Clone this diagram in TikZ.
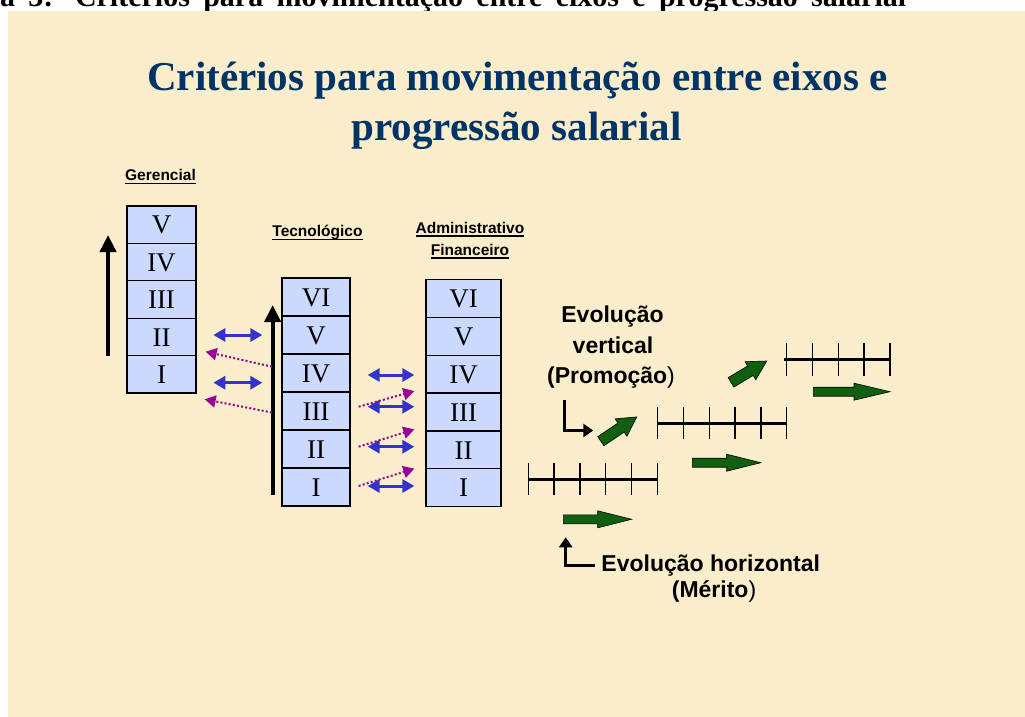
\documentclass[tikz,border=0pt]{standalone}
\usepackage{fontspec}
\setmainfont{Liberation Serif}
\newfontfamily\arialf{Liberation Sans}
\usetikzlibrary{arrows.meta,calc}
\definecolor{bgparch}{RGB}{250,237,203}
\definecolor{boxblue}{RGB}{204,217,255}
\definecolor{titleblue}{RGB}{0,51,102}
\definecolor{arrblue}{RGB}{51,51,204}
\definecolor{arrpurple}{RGB}{153,0,153}
\definecolor{arrgreen}{RGB}{16,96,16}
\tikzset{
  lvl/.style={draw=black, line width=1.3pt, fill=boxblue, inner sep=0pt,
    font=\fontsize{27}{27}\selectfont, text height=18.5pt, text depth=0pt},
  gcol/.style={lvl, minimum width=69pt, minimum height=37.4pt},
  tcol/.style={lvl, minimum width=68pt, minimum height=38pt},
  acol/.style={lvl, minimum width=75pt, minimum height=37.8pt},
  collab/.style={inner sep=0pt, anchor=base, font=\arialf\bfseries\fontsize{15.5}{16}\selectfont},
  ulin/.style={line width=1.4pt},
  evotext/.style={inner sep=0pt, anchor=base, font=\arialf\fontsize{23}{27}\selectfont},
  titletext/.style={inner sep=0pt, anchor=base, text=titleblue, font=\bfseries\fontsize{41}{41}\selectfont},
  uparrow/.style={line width=4pt, -{Triangle[width=16pt,length=17pt]}},
  bluedbl/.style={draw=arrblue, line width=3pt, {Triangle[width=13pt,length=12pt]}-{Triangle[width=13pt,length=12pt]}},
  purpdot/.style={draw=arrpurple, line width=2pt, dash pattern=on 2pt off 2.2pt, -{Triangle[width=12pt,length=11pt]}},
  elbow/.style={line width=3pt, -{Triangle[width=13pt,length=10pt]}},
  scaleline/.style={line width=2.5pt},
  tickline/.style={line width=1.4pt},
  greenstyle/.style={fill=arrgreen, draw=black, line width=0.6pt},
  pics/garrow/.style args={#1/#2/#3/#4}{code={
    \filldraw[greenstyle] (0,-#2) -- (#1-#4,-#2) -- (#1-#4,-#3) -- (#1,0) -- (#1-#4,#3) -- (#1-#4,#2) -- (0,#2) -- cycle;}}
}
\begin{document}
\begin{tikzpicture}[x=1pt,y=-1pt]
\useasboundingbox (0,0) rectangle (1025,717);
\fill[white] (0,0) rectangle (1025,717);
% clipped caption at the top
\begin{scope}
\clip (0,0) rectangle (1025,11);
\node[inner sep=0pt, anchor=base west, font=\bfseries\fontsize{30}{30}\selectfont] (cap) at (0,6.8)
  {\makebox[906pt][s]{a 3: Critérios para movimentação entre eixos e progressão salarial}};
\end{scope}
% slide background
\fill[bgparch] (8,11) rectangle (1025,717);

% title
\node[titletext] (title1) at (517.5,90) {Critérios para movimentação entre eixos e};
\node[titletext] (title2) at (516.5,140) {progressão salarial};

% column labels
\node[collab] (lg) at (160.5,180.7) {Gerencial};
\node[collab] (lt) at (317.5,236.7) {Tecnológico};
\node[collab] (la1) at (470,233) {Administrativo};
\node[collab] (la2) at (470,255) {Financeiro};
\foreach \l in {lg,lt,la1,la2}{
  \draw[ulin] ($(\l.base west)+(0,3)$) -- ($(\l.base east)+(0,3)$);
}

% Gerencial column
\node[gcol] (g5) at (161.5,224.7) {V};
\node[gcol] (g4) at (161.5,262.1) {IV};
\node[gcol] (g3) at (161.5,299.5) {III};
\node[gcol] (g2) at (161.5,336.9) {II};
\node[gcol] (g1) at (161.5,374.3) {I};

% Tecnologico column
\node[tcol] (t6) at (316,297) {VI};
\node[tcol] (t5) at (316,335) {V};
\node[tcol] (t4) at (316,373) {IV};
\node[tcol] (t3) at (316,411) {III};
\node[tcol] (t2) at (316,449) {II};
\node[tcol] (t1) at (316,487) {I};

% Administrativo column
\node[acol] (a6) at (463.5,298.4) {VI};
\node[acol] (a5) at (463.5,336.3) {V};
\node[acol] (a4) at (463.5,374.1) {IV};
\node[acol] (a3) at (463.5,411.9) {III};
\node[acol] (a2) at (463.5,449.8) {II};
\node[acol] (a1) at (463.5,487.6) {I};

% black vertical arrows
\draw[uparrow] ($(g2.south west)+(-18.3,0)$) -- ($(g5.west)+(-18.3,10.3)$);
\draw[uparrow] ($(t1.west)+(-8.7,8)$) -- ($(t6.west)+(-8.7,8)$);

% blue double arrows Gerencial - Tecnologico
\draw[bluedbl] ($(g2.east |- t5.west)+(16.7,0)$) -- ($(t5.west)+(-19,0)$);
\draw[bluedbl] ($(g1.east |- t4.west)+(16.7,9.7)$) -- ($(t4.west)+(-19,9.7)$);
% purple dotted Tecnologico -> Gerencial
\draw[purpdot] ($(t4.west)+(-9.3,-6.3)$) -- ($(g1.east)+(9,-22.6)$);
\draw[purpdot] ($(t3.west)+(-9.5,1.5)$) -- ($(g1.east)+(8,25)$);

% blue double arrows Tecnologico - Administrativo
\draw[bluedbl] ($(t4.east)+(17,2)$) -- ($(a4.west |- t4.east)+(-11,2)$);
\draw[bluedbl] ($(t3.east)+(17,-4.3)$) -- ($(a3.west |- t3.east)+(-11,-4.3)$);
\draw[bluedbl] ($(t2.east)+(17,-2.3)$) -- ($(a2.west |- t2.east)+(-11,-2.3)$);
\draw[bluedbl] ($(t1.east)+(17,-1)$) -- ($(a1.west |- t1.east)+(-11,-1)$);
% purple dotted Tecnologico -> Administrativo
\draw[purpdot] ($(t3.east)+(8,-4.3)$) -- ($(a3.north west)+(-11,-1.3)$);
\draw[purpdot] ($(t2.east)+(8,-2.3)$) -- ($(a2.north west)+(-11,-0.9)$);
\draw[purpdot] ($(t1.east)+(8,-1)$) -- ($(a1.north west)+(-11,0.6)$);

% salary scales
\draw[scaleline] (528.3,479.3) -- (657.3,479.3);
\foreach \i in {0,...,5}{\draw[tickline] (528.3+25.8*\i,463) -- (528.3+25.8*\i,495);}
\draw[scaleline] (657.7,423.3) -- (786.7,423.3);
\foreach \i in {0,...,5}{\draw[tickline] (657.7+25.8*\i,407.3) -- (657.7+25.8*\i,439);}
\draw[scaleline] (784.3,359.3) -- (890,359.3);
\foreach \i in {0,...,4}{\draw[tickline] (786.7+25.8*\i,343.3) -- (786.7+25.8*\i,375.7);}

% green block arrows
\pic at (563.3,519.3) {garrow=68.4/4.5/8.5/34};
\pic at (692.3,462.7) {garrow=68.4/4.5/8.5/34};
\pic at (813.3,391.7) {garrow=76.7/4.5/8.5/36};
\pic[rotate=34] at (600.8,441.2) {garrow=43.4/5.5/10.5/19};
\pic[rotate=30.8] at (731,382.3) {garrow=41.6/5.5/10.5/19};

% labels
\node[evotext] (ev1) at (612.5,322.7) {\bfseries Evolução};
\node[evotext] (ev2) at (613,353.3) {\bfseries vertical};
\node[evotext] (ev3) at (611,383.3) {{\bfseries (Promoção})};
\coordinate (elv1) at (564.3,400);
\coordinate (elv2) at (593.3,430.5);
\draw[elbow] (elv1) |- (elv2);

\node[evotext] (eh1) at (710.7,571.7) {\bfseries Evolução horizontal};
\node[evotext] (eh2) at (714,597) {{\bfseries (Mérito})};
\coordinate (elh1) at (595,565);
\coordinate (elh2) at (565.7,537.3);
\draw[elbow] (elh1) -| (elh2);
\end{tikzpicture}
\end{document}
